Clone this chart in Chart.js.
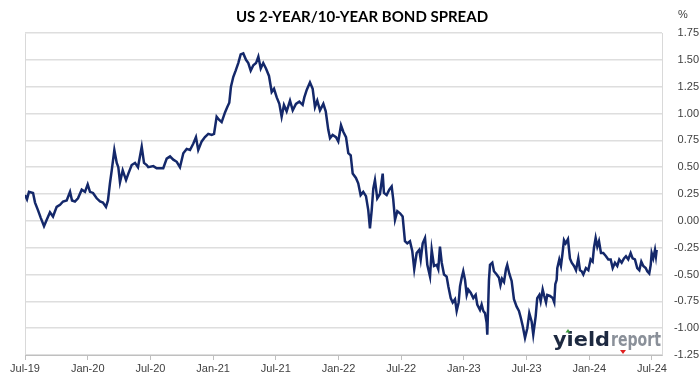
<!DOCTYPE html>
<html>
<head>
<meta charset="utf-8">
<script src="https://cdn.jsdelivr.net/npm/chart.js@4.4.1/dist/chart.umd.min.js"></script>
<style>
    html, body { margin: 0; padding: 0; background: #fff; }
    #wrap { width: 699px; height: 385px; }
</style>
</head>
<body>
<div id="wrap"><canvas id="chart" width="699" height="385"></canvas></div>
<script>
// months counted from Jul-2019
const months = [
    0.00, 0.19, 0.38, 0.77, 0.96, 1.24, 1.50, 1.82, 2.08, 2.39,
    2.68, 3.03, 3.35, 3.64, 3.99, 4.31, 4.50, 4.78, 5.07, 5.43,
    5.74, 6.00, 6.22, 6.51, 6.86, 7.18, 7.46, 7.75, 7.94, 8.13,
    8.30, 8.55, 8.78, 8.93, 9.09, 9.35, 9.67, 9.89, 10.21, 10.53,
    10.81, 11.17, 11.39, 11.65, 11.80, 12.28, 12.60, 13.23, 13.56, 13.88,
    14.19, 14.52, 14.83, 15.15, 15.47, 15.79, 16.11, 16.36, 16.58, 16.91,
    17.22, 17.54, 17.87, 18.09, 18.34, 18.59, 18.82, 19.14, 19.36, 19.55,
    19.71, 19.93, 20.16, 20.41, 20.64, 20.89, 21.15, 21.37, 21.60, 21.85,
    22.11, 22.33, 22.56, 22.80, 23.06, 23.35, 23.61, 23.83, 24.09, 24.34,
    24.56, 24.78, 25.04, 25.36, 25.62, 25.93, 26.25, 26.57, 26.73, 26.96,
    27.27, 27.53, 27.75, 27.97, 28.23, 28.55, 28.78, 29.02, 29.19, 29.44,
    29.76, 29.98, 30.24, 30.46, 30.72, 30.94, 31.17, 31.36, 31.67, 31.89,
    32.12, 32.37, 32.63, 32.85, 33.01, 33.18, 33.33, 33.49, 33.71, 33.97,
    34.23, 34.35, 34.61, 34.86, 35.09, 35.24, 35.41, 35.63, 35.89, 36.14,
    36.36, 36.58, 36.84, 37.06, 37.25, 37.48, 37.73, 37.87, 38.06, 38.28,
    38.50, 38.76, 38.92, 39.14, 39.40, 39.55, 39.71, 39.88, 40.10, 40.35,
    40.51, 40.74, 40.93, 41.15, 41.31, 41.50, 41.63, 41.79, 41.94, 42.11,
    42.27, 42.42, 42.65, 42.90, 43.13, 43.28, 43.54, 43.70, 43.86, 44.02,
    44.18, 44.24, 44.40, 44.50, 44.72, 44.88, 45.14, 45.36, 45.50, 45.65,
    45.84, 46.03, 46.15, 46.34, 46.57, 46.79, 47.05, 47.27, 47.44, 47.63,
    47.85, 48.07, 48.26, 48.49, 48.64, 48.87, 49.02, 49.22, 49.35, 49.54,
    49.69, 49.86, 49.98, 50.24, 50.50, 50.65, 50.75, 50.88, 50.94, 51.13,
    51.29, 51.42, 51.58, 51.74, 51.96, 52.15, 52.32, 52.54, 52.73, 52.95,
    53.11, 53.27, 53.43, 53.68, 53.91, 54.13, 54.32, 54.45, 54.61, 54.77,
    54.93, 55.12, 55.34, 55.60, 55.82, 56.05, 56.24, 56.46, 56.68, 56.87,
    57.10, 57.32, 57.51, 57.73, 57.96, 58.15, 58.37, 58.59, 58.79, 58.98,
    59.17, 59.40, 59.55, 59.74, 59.88, 59.97, 60.12, 60.29, 60.38, 60.45
]

// 10yr minus 2yr, %
const spread = [
    0.24, 0.20, 0.27, 0.26, 0.17, 0.10, 0.03, -0.05, 0.01, 0.08,
    0.04, 0.13, 0.15, 0.18, 0.19, 0.27, 0.19, 0.18, 0.21, 0.29,
    0.27, 0.34, 0.27, 0.26, 0.21, 0.18, 0.17, 0.13, 0.19, 0.35,
    0.47, 0.66, 0.54, 0.50, 0.36, 0.47, 0.38, 0.44, 0.52, 0.54,
    0.50, 0.69, 0.54, 0.52, 0.50, 0.51, 0.49, 0.49, 0.58, 0.60,
    0.57, 0.55, 0.50, 0.63, 0.67, 0.66, 0.72, 0.78, 0.66, 0.74,
    0.78, 0.81, 0.80, 0.81, 0.97, 0.94, 0.92, 1.01, 1.06, 1.10,
    1.25, 1.34, 1.40, 1.47, 1.55, 1.56, 1.50, 1.47, 1.40, 1.45,
    1.47, 1.53, 1.42, 1.47, 1.42, 1.35, 1.20, 1.23, 1.15, 1.09,
    0.97, 1.08, 1.02, 1.12, 1.03, 1.09, 1.11, 1.08, 1.15, 1.22,
    1.29, 1.23, 1.06, 1.12, 1.03, 1.09, 1.02, 0.85, 0.77, 0.80,
    0.78, 0.74, 0.89, 0.83, 0.78, 0.63, 0.61, 0.44, 0.40, 0.35,
    0.24, 0.27, 0.23, 0.10, -0.07, 0.10, 0.30, 0.38, 0.21, 0.25,
    0.44, 0.26, 0.24, 0.29, 0.32, 0.20, 0.01, 0.09, 0.07, 0.04,
    -0.19, -0.21, -0.19, -0.28, -0.45, -0.30, -0.27, -0.36, -0.21, -0.16,
    -0.41, -0.52, -0.27, -0.42, -0.41, -0.45, -0.24, -0.39, -0.50, -0.52,
    -0.61, -0.72, -0.76, -0.73, -0.84, -0.76, -0.61, -0.53, -0.47, -0.55,
    -0.69, -0.64, -0.67, -0.72, -0.69, -0.78, -0.83, -0.78, -0.84, -0.86,
    -0.95, -1.06, -0.55, -0.41, -0.39, -0.47, -0.50, -0.53, -0.60, -0.54,
    -0.57, -0.45, -0.41, -0.49, -0.56, -0.73, -0.80, -0.84, -0.90, -0.98,
    -1.09, -1.00, -0.86, -0.94, -1.06, -0.89, -0.72, -0.69, -0.75, -0.64,
    -0.70, -0.76, -0.69, -0.70, -0.72, -0.76, -0.59, -0.55, -0.44, -0.36,
    -0.42, -0.32, -0.18, -0.21, -0.17, -0.35, -0.39, -0.42, -0.46, -0.35,
    -0.46, -0.47, -0.50, -0.44, -0.46, -0.36, -0.38, -0.25, -0.16, -0.24,
    -0.19, -0.30, -0.30, -0.33, -0.36, -0.36, -0.44, -0.39, -0.42, -0.36,
    -0.39, -0.35, -0.33, -0.36, -0.30, -0.35, -0.36, -0.44, -0.46, -0.38,
    -0.42, -0.44, -0.47, -0.49, -0.41, -0.30, -0.35, -0.27, -0.33, -0.27
]

// one label every 6 months
const xTickLabels = ['Jul-19', 'Jan-20', 'Jul-20', 'Jan-21', 'Jul-21', 'Jan-22',
    'Jul-22', 'Jan-23', 'Jul-23', 'Jan-24', 'Jul-24']

const tickFont = { family: 'Liberation Sans', size: 11 }

// draws a word stretched to a given width
function fitText(ctx, txt, x, y, w) {
    const natural = ctx.measureText(txt).width
    ctx.save()
    ctx.translate(x, y)
    ctx.scale(w / natural, 1)
    ctx.fillText(txt, 0, 0)
    ctx.restore()
}

// frame, % sign and the yieldreport logo
const extras = {
    id: 'extras',
    beforeDatasetsDraw(chart) {
        const { ctx, chartArea: a } = chart
        ctx.save()
        ctx.strokeStyle = '#d9d9d9'
        ctx.lineWidth = 1
        ctx.beginPath()
        ctx.moveTo(a.left + 0.5, a.bottom)
        ctx.lineTo(a.left + 0.5, a.top + 0.5)
        ctx.stroke()
        ctx.restore()
    },
    afterDraw(chart) {
        const { ctx, chartArea: a } = chart
        ctx.save()
        ctx.fillStyle = '#404040'
        ctx.font = '11px "Liberation Sans"'
        ctx.textAlign = 'center'
        ctx.textBaseline = 'middle'
        ctx.fillText('%', 683, 15)

        // logo
        const x0 = a.right - 109
        const base = a.bottom - 9
        ctx.textAlign = 'left'
        ctx.textBaseline = 'alphabetic'
        ctx.font = 'bold 20px "DejaVu Sans"'
        ctx.fillStyle = '#1d2940'
        fitText(ctx, 'yield', x0, base, 57)
        ctx.fillStyle = '#8a9099'
        fitText(ctx, 'report', x0 + 58, base, 50)
        // little triangles of the logo
        ctx.fillStyle = '#3a9a3a'
        ctx.beginPath()
        ctx.moveTo(x0 + 15, base - 17)
        ctx.lineTo(x0 + 12.5, base - 13.5)
        ctx.lineTo(x0 + 17.5, base - 13.5)
        ctx.fill()
        ctx.fillStyle = '#e02020'
        ctx.beginPath()
        ctx.moveTo(x0 + 70, base + 8)
        ctx.lineTo(x0 + 67, base + 4)
        ctx.lineTo(x0 + 73, base + 4)
        ctx.fill()
        ctx.restore()
    }
}

new Chart(document.querySelector('#chart'), {
    type: 'line',
    data: {
        datasets: [{
            data: months.map((m, i) => ({ x: m, y: spread[i] })),
            borderColor: '#14286a',
            borderWidth: 2.5,
            pointRadius: 0,
            tension: 0,
            fill: false
        }]
    },
    options: {
        responsive: false,
        animation: false,
        layout: { padding: { left: 25, top: 0, right: 0, bottom: 0 } },
        plugins: {
            legend: { display: false },
            tooltip: { enabled: false },
            title: {
                display: true,
                text: 'US 2-YEAR/10-YEAR BOND SPREAD',
                color: '#000',
                font: { family: 'Lato', size: 15, weight: 'bold' },
                padding: { top: 8, bottom: 7 }
            }
        },
        scales: {
            x: {
                type: 'linear',
                min: 0,
                max: 60.96,
                grid: { drawOnChartArea: false, drawTicks: true, tickLength: 5, tickColor: '#bfbfbf' },
                border: { color: '#bfbfbf' },
                ticks: {
                    stepSize: 6,
                    includeBounds: false,
                    autoSkip: false,
                    maxRotation: 0,
                    padding: 2,
                    color: '#404040',
                    font: tickFont,
                    callback: v => (v % 6 === 0 ? xTickLabels[v / 6] : '')
                },
                afterFit: s => { s.height = 30 }
            },
            y: {
                position: 'right',
                min: -1.25,
                max: 1.75,
                grid: { color: '#dedede', lineWidth: 1.5, drawTicks: false },
                border: { color: '#d9d9d9' },
                ticks: {
                    stepSize: 0.25,
                    padding: 8,
                    crossAlign: 'far',
                    color: '#404040',
                    font: tickFont,
                    callback: v => v.toFixed(2)
                },
                afterFit: s => { s.width = 37 }
            }
        }
    },
    plugins: [extras]
})
</script>
</body>
</html>
